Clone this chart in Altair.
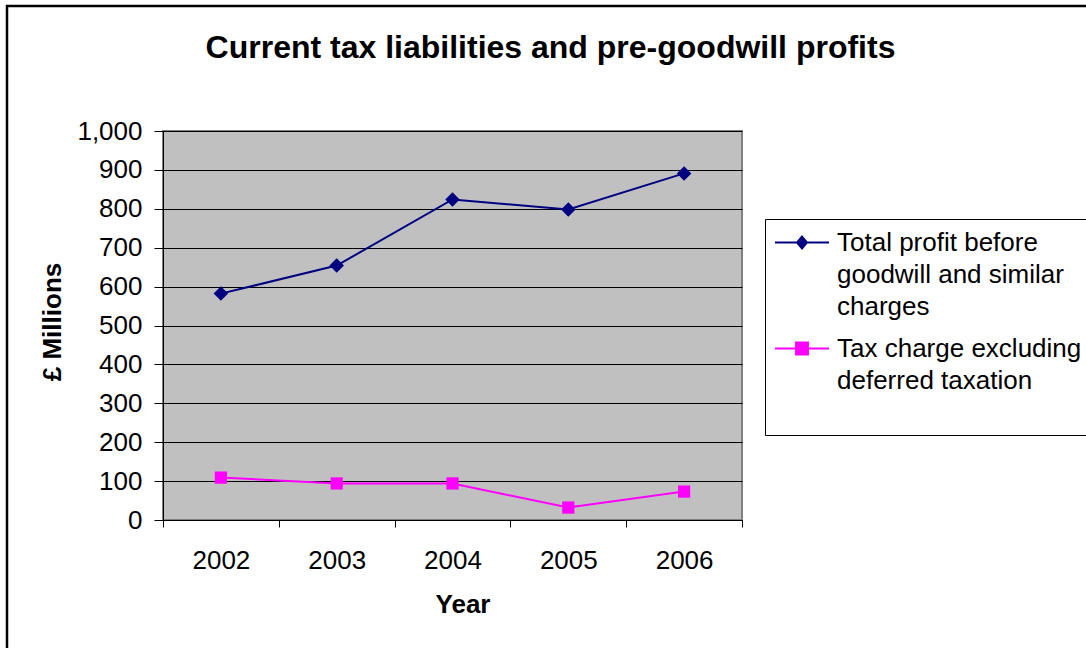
import json
import altair as alt
import pandas as pd

# ---- data ----
years = [2002, 2003, 2004, 2005, 2006]
profit = [582, 654, 824, 798, 891]
tax = [109, 94, 94, 32, 73]
series_names = [
    "Total profit before goodwill and similar charges",
    "Tax charge excluding deferred taxation",
]
legend_lines = [
    ["Total profit before", "goodwill and similar", "charges"],
    ["Tax charge excluding\u00a0", "deferred taxation", ""],
]
series_colors = ["#000080", "#FF00FF"]
marker_shapes = ["diamond", "square"]
marker_sizes = [210, 150]
legend_shapes = [
    "M-1,0L3,0M1,-0.44L1.37,0L1,0.44L0.63,0Z",
    "M-1,0L3,0M0.56,-0.44L1.44,-0.44L1.44,0.44L0.56,0.44Z",
]
y_ticks = list(range(0, 1001, 100))
x_bounds = [2001.5, 2002.5, 2003.5, 2004.5, 2005.5, 2006.5]

rows = []
for yr, p, t in zip(years, profit, tax):
    rows.append({"year": yr, "series": series_names[0], "value": p})
    rows.append({"year": yr, "series": series_names[1], "value": t})
df = pd.DataFrame(rows)

FONT = "Liberation Sans"
W, H = 579, 389

x_enc = alt.X(
    "year:Q",
    scale=alt.Scale(domain=[x_bounds[0], x_bounds[-1]], nice=False, zero=False),
    axis=alt.Axis(
        values=x_bounds,
        labelExpr="datum.value < 2006 ? toString(datum.value + 0.5) : ''",
        labelOffset=W / 10,
        labelFlush=False,
        labelOverlap=False,
        labelBound=False,
        grid=False,
        tickSize=7,
        tickColor="black",
        domainColor="black",
        domainWidth=1,
        labelPadding=20,
        labelFontSize=26,
        labelFont=FONT,
        labelColor="black",
        title="Year",
        titleFont=FONT,
        titleFontSize=26,
        titleFontWeight="bold",
        titleColor="black",
        titleBaseline="alphabetic",
        titleY=92,
        titleX=W / 2 + 10,
    ),
)
y_enc = alt.Y(
    "value:Q",
    scale=alt.Scale(domain=[0, 1000], nice=False),
    axis=alt.Axis(
        values=y_ticks,
        format=",.0f",
        grid=True,
        gridColor="black",
        gridWidth=1,
        tickSize=9,
        tickColor="black",
        domainColor="black",
        domainWidth=1,
        labelPadding=12,
        labelFontSize=26,
        labelFont=FONT,
        labelColor="black",
        title="£ Millions",
        titleFont=FONT,
        titleFontSize=26,
        titleFontWeight="bold",
        titleColor="black",
        titleX=-111,
        titleY=H / 2 - 4,
        titleAngle=270,
        titleAlign="center",
        titleBaseline="middle",
    ),
)

color_scale = alt.Scale(domain=series_names, range=series_colors)

lines = alt.Chart(df).mark_line(strokeWidth=2).encode(
    x=x_enc, y=y_enc,
    color=alt.Color("series:N", scale=color_scale, legend=None),
)
points = alt.Chart(df).mark_point(filled=True, opacity=1).encode(
    x=x_enc, y=y_enc,
    color=alt.Color("series:N", scale=color_scale, legend=None),
    shape=alt.Shape("series:N", scale=alt.Scale(domain=series_names, range=marker_shapes), legend=None),
    size=alt.Size("series:N", scale=alt.Scale(domain=series_names, range=marker_sizes), legend=None),
)

label_expr = " : ".join(
    f"datum.label == {json.dumps(n)} ? {json.dumps(l)}" for n, l in zip(series_names, legend_lines)
) + " : datum.label"

leg = alt.Legend(
    orient="none",
    legendX=602,
    legendY=88,
    title=None,
    padding=9,
    fillColor="white",
    strokeColor="black",
    labelFont=FONT,
    labelFontSize=26,
    labelColor="black",
    labelExpr=label_expr,
    labelLimit=500,
    labelOffset=34,
    symbolSize=729,
    symbolStrokeWidth=2,
    symbolOpacity=1,
    rowPadding=14,
)

legend_layer = alt.Chart(df).mark_point(filled=True, opacity=1, strokeWidth=2).encode(
    x=x_enc, y=y_enc,
    fill=alt.Fill("series:N", scale=alt.Scale(domain=series_names, range=series_colors), legend=leg),
    stroke=alt.Stroke("series:N", scale=alt.Scale(domain=series_names, range=series_colors), legend=leg),
    shape=alt.Shape("series:N", scale=alt.Scale(domain=series_names, range=legend_shapes), legend=leg),
).transform_filter("false")

frame = alt.Chart(alt.Data(values=[{}])).mark_rect(
    fill="transparent", stroke="black", strokeWidth=2.5
).encode(
    x=alt.value(-156), x2=alt.value(960), y=alt.value(-125), y2=alt.value(560)
)

chart = alt.layer(frame, lines, points, legend_layer).resolve_scale(
    shape="independent", fill="independent", stroke="independent"
).properties(
    width=W,
    height=H,
    padding={"left": 163, "top": 131, "right": 344, "bottom": 128},
    autosize=alt.AutoSizeParams(type="none"),
    background="white",
    title=alt.TitleParams(
        "Current tax liabilities and pre-goodwill profits",
        font=FONT,
        fontSize=32,
        fontWeight="bold",
        color="black",
        anchor="middle",
        baseline="alphabetic",
        offset=0,
        dx=98,
        dy=85,
    ),
).configure(
    style={"guide-label": {"lineHeight": 32}}
).configure_view(
    fill="#C0C0C0", stroke="#808080", strokeWidth=2
)

chart.save("out.html", embed_options={"renderer": "svg", "actions": False})
